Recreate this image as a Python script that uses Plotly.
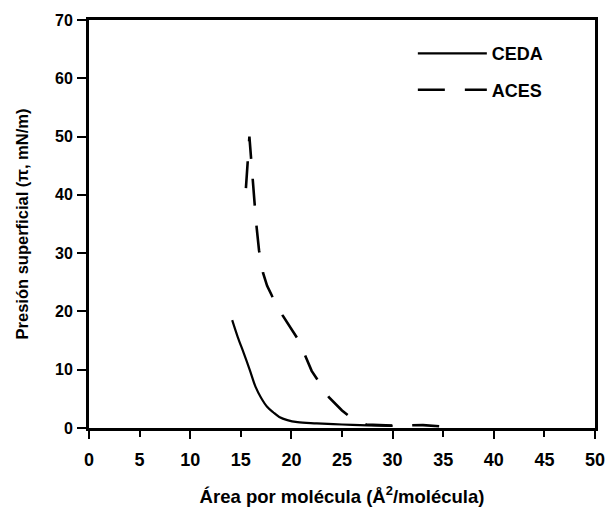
import plotly.graph_objects as go

# CEDA isotherm (solid)
ceda_area = [14.15, 14.7, 15.3, 15.9, 16.45, 17.0, 17.6, 18.2, 18.8, 19.6, 20.6, 22.5, 25.0, 27.5, 30.0]
ceda_pi = [18.5, 15.6, 12.8, 9.9, 7.1, 5.2, 3.65, 2.7, 1.9, 1.35, 1.0, 0.8, 0.6, 0.45, 0.35]

# ACES isotherm (dashed)
aces_area = [34.6, 33.0, 30.0, 27.4, 26.0, 25.0, 23.7, 22.0, 20.7, 19.1, 18.1, 17.6, 17.2, 16.8, 16.5, 16.2, 16.0, 15.85, 15.5]
aces_pi = [0.3, 0.5, 0.4, 0.6, 1.6, 3.0, 5.3, 9.8, 15.1, 19.4, 22.6, 24.4, 26.6, 30.5, 35.5, 42.8, 47.0, 50.0, 41.0]

x_ticks = [0, 5, 10, 15, 20, 25, 30, 35, 40, 45, 50]
y_ticks = [0, 10, 20, 30, 40, 50, 60, 70]

FONT = "Liberation Sans, Arial, sans-serif"

fig = go.Figure()
fig.add_trace(go.Scatter(x=ceda_area, y=ceda_pi, mode="lines", name="CEDA",
                         line=dict(color="black", width=2.2, shape="spline"),
                         legendgroup="a"))
fig.add_trace(go.Scatter(x=aces_area, y=aces_pi, mode="lines", name="ACES",
                         line=dict(color="black", width=2.6, dash="27px,20px"),
                         legendgroup="b"))
# helper axis for the longer ticks at every 10
fig.add_trace(go.Scatter(x=[0, 50], y=[0, 0], mode="lines", xaxis="x2",
                         line=dict(width=0), showlegend=False, hoverinfo="skip"))

fig.update_layout(
    width=608, height=508,
    margin=dict(l=89, r=13, t=20, b=80, autoexpand=False),
    paper_bgcolor="white", plot_bgcolor="white",
    font=dict(family=FONT, color="black", size=15, weight="bold"),
    showlegend=True,
    legend=dict(x=0.64, y=0.963, xanchor="left", yanchor="top",
                itemwidth=69, tracegroupgap=10,
                font=dict(family=FONT, size=18, weight="bold"),
                bgcolor="rgba(0,0,0,0)"),
    xaxis=dict(range=[0, 50], tickvals=x_ticks, ticks="outside", ticklen=6,
               tickwidth=2, tickcolor="black", showline=True, linewidth=3,
               linecolor="black", mirror=True, showgrid=False, zeroline=False,
               ticklabelstandoff=7, automargin=False,
               tickfont=dict(family=FONT, size=18, weight="bold"),
               title=dict(text="Área por molécula (Å<sup>2</sup>/molécula)",
                          font=dict(family=FONT, size=18.5, weight="bold"),
                          standoff=22)),
    xaxis2=dict(range=[0, 50], overlaying="x", side="bottom", anchor="y",
                dtick=10, tick0=0, ticks="outside", ticklen=10, tickwidth=2,
                tickcolor="black", showticklabels=False, showline=False,
                showgrid=False, zeroline=False, automargin=False),
    yaxis=dict(range=[0, 70], tickvals=y_ticks, ticks="outside", ticklen=9,
               tickwidth=2, tickcolor="black", showline=True, linewidth=3,
               linecolor="black", mirror=True, showgrid=False, zeroline=False,
               ticklabelstandoff=1, automargin=False,
               tickfont=dict(family=FONT, size=16, weight="bold"),
               title=dict(text="Presión superficial (π, mN/m)",
                          font=dict(family=FONT, size=16.5, weight="bold"),
                          standoff=23)),
)

fig.write_html("out.html")
